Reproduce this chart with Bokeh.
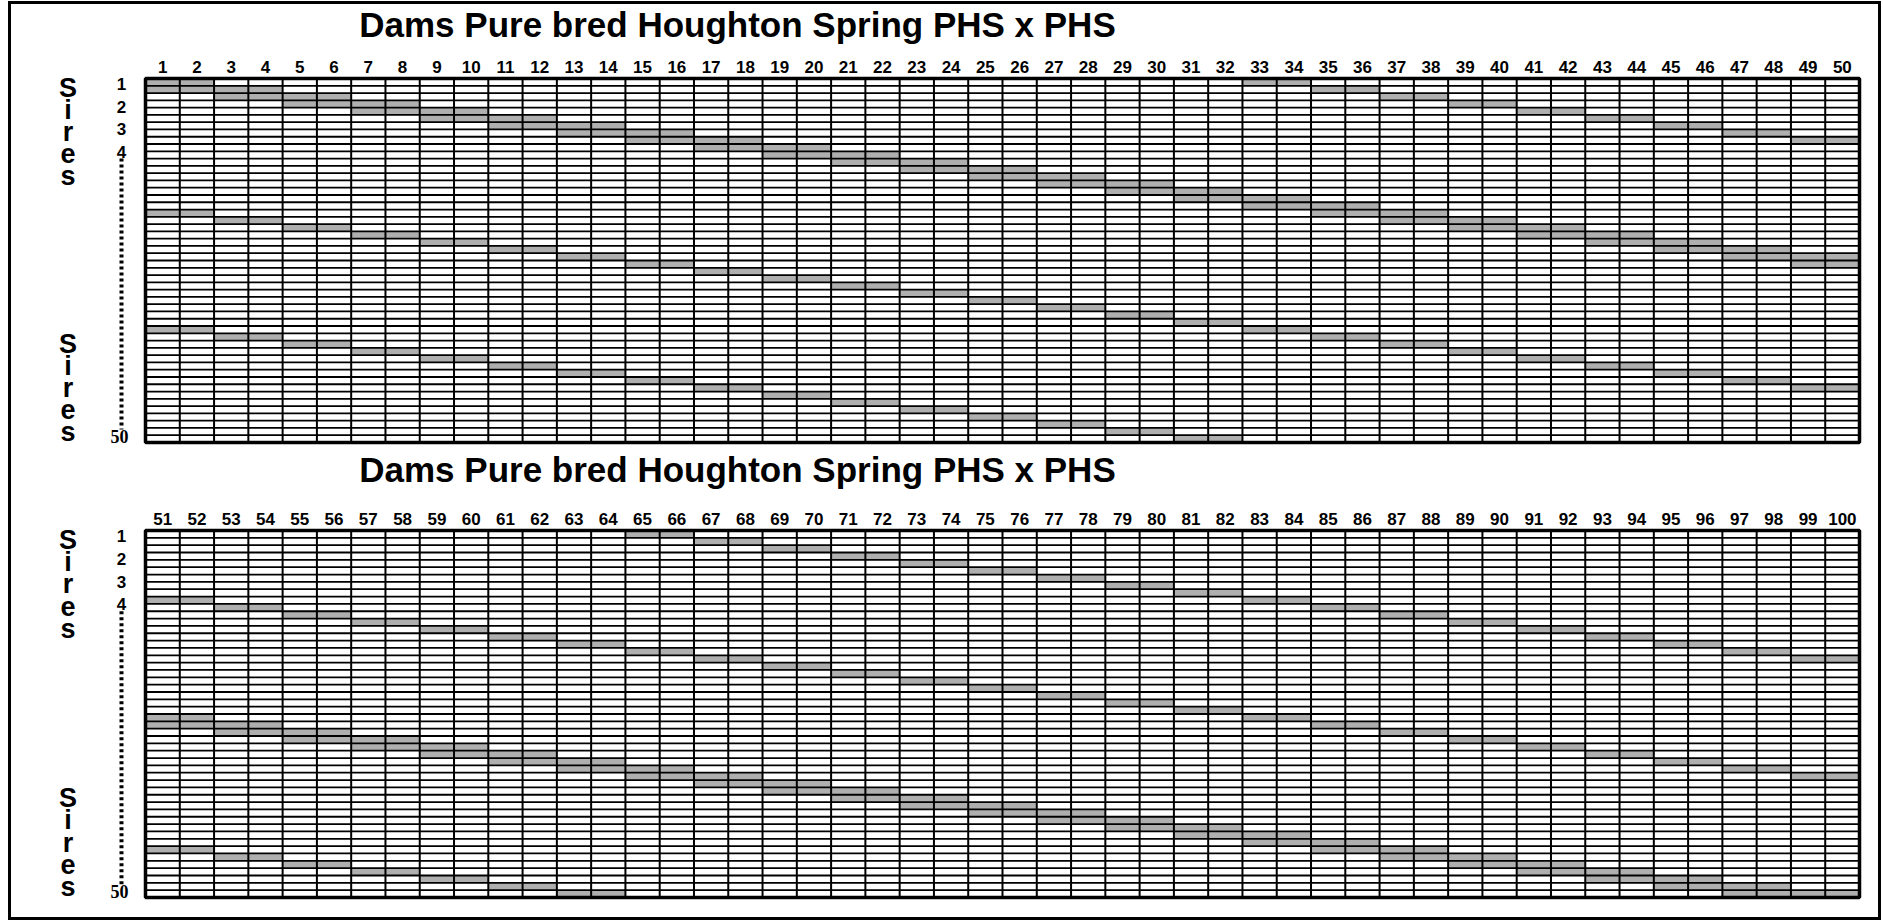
from bokeh.plotting import figure
from bokeh.layouts import column
from bokeh.models import Range1d, FixedTicker, LinearAxis
from bokeh.embed import file_html
from bokeh.resources import INLINE
from bokeh.core.properties import value

# ---------------- data ----------------
TITLE = "Dams Pure bred Houghton Spring PHS x PHS"
dams_top = list(range(1, 51))
dams_bottom = list(range(51, 101))
sires = list(range(1, 51))
sire_tick_labels = ["1", "2", "3", "4"]
sire_last_label = "50"
sires_word = ["S", "i", "r", "e", "s"]

# first dam of each mated pair of dams (pair = dam, dam + 1)
pair_first_dam = [1, 3, 5, 7, 9, 11, 13, 15, 17, 19, 21, 23, 25, 27, 29, 31, 33, 35, 37, 39,
                  41, 43, 45, 47, 49, 51, 53, 55, 57, 59, 61, 63, 65, 67, 69, 71, 73, 75, 77, 79,
                  81, 83, 85, 87, 89, 91, 93, 95, 97, 99]
# wide band: every pair is shaded on two sires
wide_band_sire_a = [1, 2, 3, 4, 5, 6, 7, 8, 9, 10, 11, 12, 13, 14, 15, 16, 17, 18, 19, 20,
                    21, 22, 23, 24, 25, 26, 27, 28, 29, 30, 31, 32, 33, 34, 35, 36, 37, 38, 39, 40,
                    41, 42, 43, 44, 45, 46, 47, 48, 49, 50]
wide_band_sire_b = [2, 3, 4, 5, 6, 7, 8, 9, 10, 11, 12, 13, 14, 15, 16, 17, 18, 19, 20, 21,
                    22, 23, 24, 25, 26, 27, 28, 29, 30, 31, 32, 33, 34, 35, 36, 37, 38, 39, 40, 41,
                    42, 43, 44, 45, 46, 47, 48, 49, 50, None]
# narrow bands: every pair shaded on one sire
narrow_band_1_sire = [19, 20, 21, 22, 23, 24, 25, 26, 27, 28, 29, 30, 31, 32, 33, 34, 35, 36, 37, 38,
                      39, 40, 41, 42, 43, 44, 45, 46, 47, 48, 49, 50, 1, 2, 3, 4, 5, 6, 7, 8,
                      9, 10, 11, 12, 13, 14, 15, 16, 17, 18]
narrow_band_2_sire = [35, 36, 37, 38, 39, 40, 41, 42, 43, 44, 45, 46, 47, 48, 49, 50, 1, 2, 3, 4,
                      5, 6, 7, 8, 9, 10, 11, 12, 13, 14, 15, 16, 17, 18, 19, 20, 21, 22, 23, 24,
                      25, 26, 27, 28, 29, 30, 31, 32, 33, 34]

# ---------------- style / layout (pixels inside each canvas) ----------------
GRAY = "#afafaf"
FIG_W = 1867
GRID_LEFT_PX = 134.0
COL_W = 34.28


def make_panel(dams, height, grid_top_px, row_h, title_px):
    lo = dams[0] - 1
    hi = dams[-1]
    n = len(sires)
    x_start = lo - GRID_LEFT_PX / COL_W
    x_end = x_start + FIG_W / COL_W
    y_top = -grid_top_px / row_h
    y_bot = y_top + height / row_h

    def col(px):   # canvas x pixel -> column units
        return x_start + px / COL_W

    def row(px):   # canvas y pixel -> row units
        return y_top + px / row_h

    p = figure(width=FIG_W, height=height,
               x_range=Range1d(x_start, x_end), y_range=Range1d(y_bot, y_top),
               x_axis_location=None, y_axis_location=None,
               output_backend="svg", toolbar_location=None, min_border=0)
    p.outline_line_color = None
    p.xgrid.grid_line_color = None
    p.ygrid.grid_line_color = None
    p.background_fill_color = None
    p.border_fill_color = None

    # dam axis, drawn on the top edge of the grid
    ax = LinearAxis(fixed_location=0)
    ax.ticker = FixedTicker(ticks=[d - 0.5 for d in dams], minor_ticks=[])
    ax.major_label_overrides = {d - 0.5: str(d) for d in dams}
    ax.axis_line_color = None
    ax.major_tick_line_color = None
    ax.minor_tick_line_color = None
    ax.major_tick_out = 0
    ax.major_tick_in = 0
    ax.major_label_standoff = 6
    ax.major_label_text_font = "Liberation Sans"
    ax.major_label_text_font_style = "bold"
    ax.major_label_text_font_size = "17px"
    ax.major_label_text_color = "black"
    p.add_layout(ax, "above")

    # title
    p.text(x=[col(726)], y=[row(title_px)], text=[TITLE],
           text_font=value("Liberation Sans"), text_font_style="bold",
           text_font_size="35px", text_color="black",
           text_align="center", text_baseline="middle")

    # shaded cells
    cx, cy = [], []
    for band in (wide_band_sire_a, wide_band_sire_b, narrow_band_1_sire, narrow_band_2_sire):
        for d, s in zip(pair_first_dam, band):
            if s is None or d not in dams:
                continue
            cx.append(d)
            cy.append(s - 0.5)
    p.rect(x=cx, y=cy, width=2, height=1, fill_color=GRAY, line_color=None)

    # grid lines
    vx = list(range(lo, hi + 1))
    p.segment(x0=vx, y0=[0] * len(vx), x1=vx, y1=[n] * len(vx),
              line_color="black", line_width=2)
    hy = list(range(0, n + 1))
    p.segment(x0=[lo] * len(hy), y0=hy, x1=[hi] * len(hy), y1=hy,
              line_color="black", line_width=1.8)
    p.rect(x=[(lo + hi) / 2], y=[n / 2], width=hi - lo, height=n,
           fill_color=None, line_color="black", line_width=3.5)

    # sire labels on the left
    lab_x = col(110)
    p.text(x=[lab_x] * len(sire_tick_labels), y=[0.7, 3.9, 7.0, 10.05],
           text=sire_tick_labels, text_font=value("Liberation Sans"),
           text_font_style="bold", text_font_size="17px", text_color="black",
           text_align="center", text_baseline="middle")
    p.text(x=[col(117)], y=[49.2], text=[sire_last_label],
           text_font=value("Liberation Serif"), text_font_style="bold",
           text_font_size="18px", text_color="black",
           text_align="right", text_baseline="middle")
    p.segment(x0=[lab_x], y0=[11.0], x1=[lab_x], y1=[48.2],
              line_color="black", line_width=4, line_dash="3 3")

    # "Sires" written vertically, twice
    sx = col(56.5)
    for base in (1.3, 36.47):
        ys = [base + 3.02 * i for i in range(len(sires_word))]
        p.text(x=[sx] * len(sires_word), y=ys, text=sires_word,
               text_font=value("Liberation Sans"), text_font_style="bold",
               text_font_size="27px", text_color="black",
               text_align="center", text_baseline="middle")
    return p


p1 = make_panel(dams_top, 444, 74, 7.28, 20)
p2 = make_panel(dams_bottom, 469, 82, 7.34, 20.5)

layout = column(p1, p2, styles={"border": "3px solid black",
                                "margin-left": "8px", "margin-top": "1px",
                                "background-color": "white"})
open("out.html", "w").write(file_html(layout, INLINE))
